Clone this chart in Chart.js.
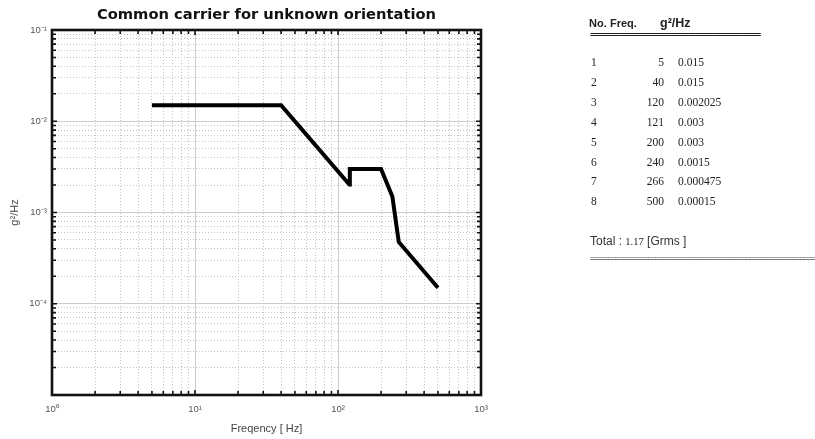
<!DOCTYPE html>
<html><head><meta charset="utf-8">
<script src="https://cdn.jsdelivr.net/npm/chart.js@4/dist/chart.umd.min.js"></script>
<style>
html,body{margin:0;padding:0;background:#fff;}
#wrap{position:relative;width:815px;height:439px;overflow:hidden;background:#fff;}
#c{position:absolute;left:0;top:0;}
.t{position:absolute;white-space:nowrap;color:#2a2a2a;line-height:1;}
.hd{font-family:"Liberation Sans",Arial,sans-serif;font-weight:bold;font-size:11px;color:#222;}
.num{font-family:"Liberation Serif","DejaVu Serif",serif;font-size:11.5px;color:#222;}
.sans{font-family:"Liberation Sans",Arial,sans-serif;font-size:12px;color:#333;}
.eq{font-family:"DejaVu Sans Mono",monospace;font-size:8px;letter-spacing:-1.2px;color:#555;}
</style></head><body>
<div id="wrap"><canvas id="c" width="815" height="439"></canvas><div id="table"></div></div>
<script>
// ---- data ----
const freq = [5, 40, 120, 121, 200, 240, 266, 500];
const psd = [0.015, 0.015, 0.002025, 0.003, 0.003, 0.0015, 0.000475, 0.00015];
const pointNo = [1, 2, 3, 4, 5, 6, 7, 8];
const xDecades = [0, 1, 2, 3];
const xTickLabels = ['10⁰', '10¹', '10²', '10³'];
const yDecades = [-5, -4, -3, -2, -1];
const yTickLabels = ['', '10⁻⁴', '10⁻³', '10⁻²', '10⁻¹'];
const titleText = 'Common carrier for unknown orientation';
const xTitle = 'Freqency [ Hz]';
const yTitle = 'g²/Hz';
const tableHeader = ['No.', 'Freq.', 'g²/Hz'];
const totalGrms = '1.17';

// ---- table (HTML text) ----
const tbl = document.getElementById('table');
function addText(cls, text, left, top, align) {
  const d = document.createElement('div');
  d.className = 't ' + cls;
  d.textContent = text;
  d.style.top = top + 'px';
  if (align === 'right') d.style.right = (815 - left) + 'px'; else d.style.left = left + 'px';
  tbl.appendChild(d);
  return d;
}
addText('hd', tableHeader[0], 589, 18);
addText('hd', tableHeader[1], 610, 18);
const gh = addText('hd', tableHeader[2], 660, 17);
gh.style.fontSize = '12.5px';
const ul = addText('eq', '='.repeat(47), 590, 31);
ul.style.color = '#222'; ul.style.fontWeight = 'bold';
for (let i = 0; i < pointNo.length; i++) {
  const y = 57 + i * 19.9;
  addText('num', String(pointNo[i]), 591, y);
  addText('num', String(freq[i]), 664, y, 'right');
  addText('num', String(psd[i]), 678, y);
}
const tot = addText('sans', '', 590, 235);
tot.innerHTML = 'Total : <span class="num" style="font-size:10.5px">' + totalGrms + '</span> [Grms ]';
addText('eq', '='.repeat(80), 590, 255);

// ---- chart ----
function decadeTicks(decs) {
  const out = [];
  for (let k = 0; k < decs.length; k++) {
    const e = decs[k];
    const lim = (k === decs.length - 1) ? 1 : 9;
    for (let d = 1; d <= lim; d++) out.push({ value: d * Math.pow(10, e), major: d === 1, label: d === 1 ? k : -1 });
  }
  return out;
}
function isMajorCtx(ctx) { return ctx.tick && ctx.tick.major; }

const frame = {
  id: 'frame',
  afterDatasetsDraw(chart) {
    const { ctx, chartArea: a } = chart;
    const xs = chart.scales.x, ys = chart.scales.y;
    ctx.save();
    ctx.strokeStyle = '#111';
    ctx.lineWidth = 1.6;
    xs.ticks.forEach(t => {
      const px = xs.getPixelForValue(t.value);
      const L = t.major ? 5 : 4;
      ctx.beginPath();
      ctx.moveTo(px, a.bottom); ctx.lineTo(px, a.bottom - L);
      ctx.moveTo(px, a.top); ctx.lineTo(px, a.top + L);
      ctx.stroke();
    });
    ys.ticks.forEach(t => {
      const py = ys.getPixelForValue(t.value);
      const L = t.major ? 5 : 4;
      ctx.beginPath();
      ctx.moveTo(a.left, py); ctx.lineTo(a.left + L, py);
      ctx.moveTo(a.right, py); ctx.lineTo(a.right - L, py);
      ctx.stroke();
    });
    ctx.lineWidth = 2.6;
    ctx.strokeRect(a.left, a.top, a.right - a.left, a.bottom - a.top);
    // title
    ctx.fillStyle = '#111';
    ctx.font = 'bold 14.7px "DejaVu Sans", sans-serif';
    ctx.textAlign = 'center';
    ctx.textBaseline = 'middle';
    ctx.fillText(titleText, (a.left + a.right) / 2, 15);
    ctx.restore();
  }
};

new Chart(document.getElementById('c'), {
  type: 'line',
  data: {
    datasets: [{
      data: freq.map((f, i) => ({ x: f, y: psd[i] })),
      borderColor: '#000',
      borderWidth: 4,
      pointRadius: 0,
      tension: 0,
      fill: false,
      borderJoinStyle: 'miter',
      borderCapStyle: 'butt'
    }]
  },
  options: {
    responsive: false,
    animation: false,
    layout: { padding: { top: 30, left: 0, right: 334, bottom: 0 } },
    plugins: { legend: { display: false }, tooltip: { enabled: false }, title: { display: false } },
    scales: {
      x: {
        type: 'logarithmic',
        min: 1, max: 1000,
        afterBuildTicks: s => { s.ticks = decadeTicks(xDecades); },
        afterFit: s => { s.height = 44; },
        ticks: {
          autoSkip: false, maxRotation: 0, padding: 9,
          color: '#555',
          font: { family: '"Liberation Sans", Arial, sans-serif', size: 9.5 },
          callback: (v, i, ticks) => { const t = ticks[i]; return t.label >= 0 ? xTickLabels[t.label] : ''; }
        },
        grid: {
          drawTicks: false,
          color: ctx => isMajorCtx(ctx) ? '#cdcdcd' : '#c4c4c4',
          lineWidth: 1
        },
        border: { display: false, dash: ctx => isMajorCtx(ctx) ? [] : [1, 2] },
        title: { display: true, text: xTitle, color: '#444', font: { family: '"Liberation Sans", Arial, sans-serif', size: 11 }, padding: { top: 0, bottom: 3 } }
      },
      y: {
        type: 'logarithmic',
        min: 1e-5, max: 0.1,
        afterBuildTicks: s => { s.ticks = decadeTicks(yDecades); },
        afterFit: s => { s.width = 52; },
        ticks: {
          autoSkip: false, padding: 5,
          color: '#555',
          font: { family: '"Liberation Sans", Arial, sans-serif', size: 9.5 },
          callback: (v, i, ticks) => { const t = ticks[i]; return t.label >= 0 ? yTickLabels[t.label] : ''; }
        },
        grid: {
          drawTicks: false,
          color: ctx => isMajorCtx(ctx) ? '#cdcdcd' : '#c4c4c4',
          lineWidth: 1
        },
        border: { display: false, dash: ctx => isMajorCtx(ctx) ? [] : [1, 2] },
        title: { display: true, text: yTitle, color: '#444', font: { family: '"Liberation Sans", Arial, sans-serif', size: 11 }, padding: { top: 8, bottom: 0 } }
      }
    }
  },
  plugins: [frame]
});
</script>
</body></html>
